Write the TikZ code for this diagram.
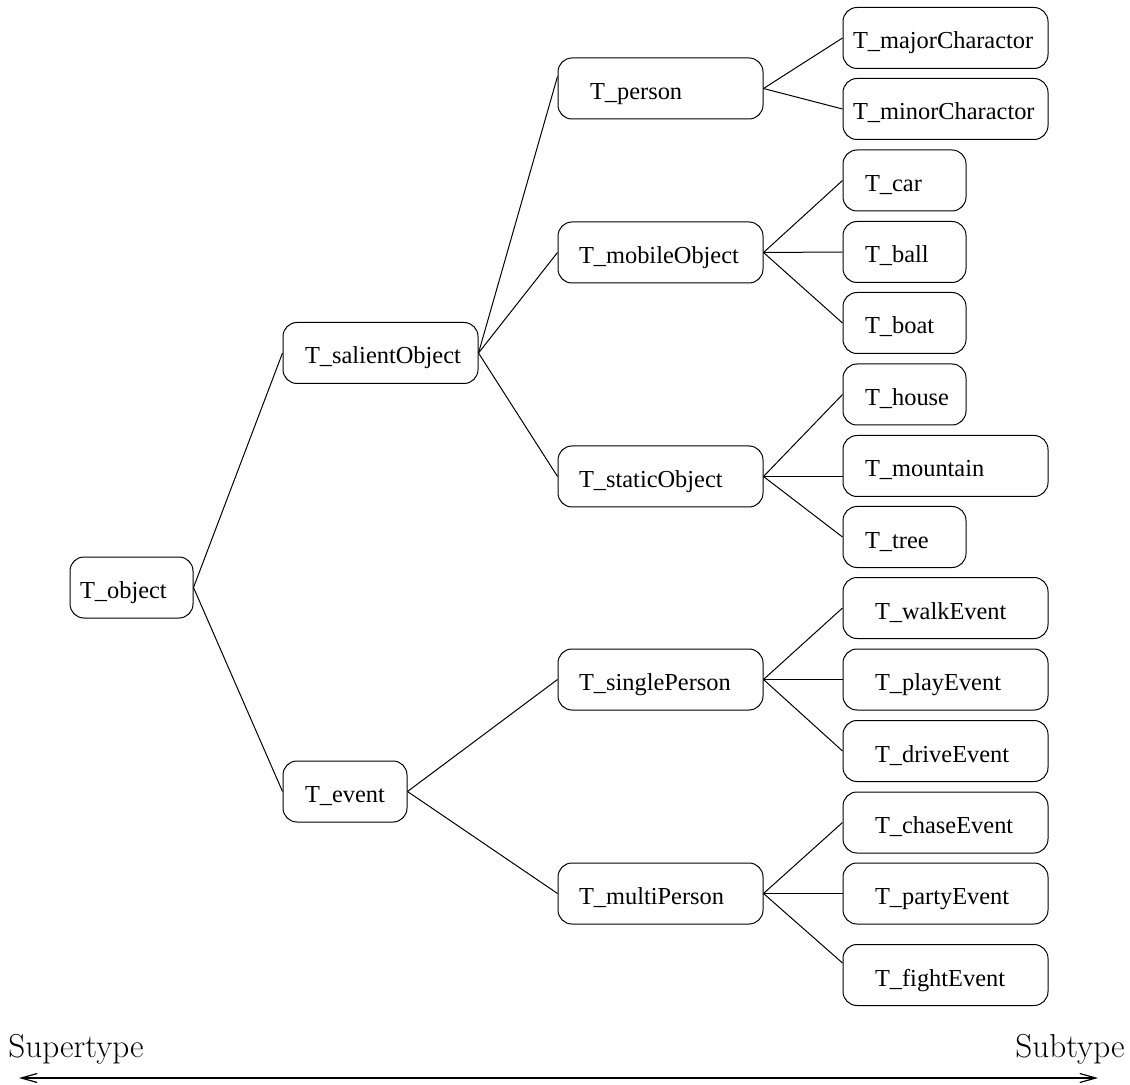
\documentclass[tikz,border=0pt]{standalone}
\usepackage{fontspec}
\usetikzlibrary{arrows.meta}
\newfontfamily\boxfont{Liberation Serif}
\hyphenpenalty=10000
\exhyphenpenalty=10000

\tikzset{
  box/.style 2 args={draw, line width=0.5pt, rounded corners=7pt,
    minimum height=30.5pt, inner ysep=0pt, align=left,
    text height=11pt, text depth=0pt,
    inner xsep=#2*0.5pt, text width={(#1-2*#2)*0.5pt},
    font=\boxfont\fontsize{12.2}{14}\selectfont},
  link/.style={line width=0.5pt},
  axistip/.tip={Straight Barb[length=8pt,width=4.5pt]}
}

\begin{document}
\begin{tikzpicture}[x=0.5pt,y=-0.5pt]
  \useasboundingbox (0,0) rectangle (1130,1085);
  % root and first level
  \node[box={123}{10}] (object) at (131.5,587.5) {T\_object};
  \node[box={195}{22}] (salient) at (380.5,353) {T\_salientObject};
  \node[box={124}{22}] (event) at (345,791.5) {T\_event};
  % second level
  \node[box={205}{32}] (person) at (660.5,88.5) {T\_person};
  \node[box={205}{21}] (mobile) at (660.5,252.5) {T\_mobileObject};
  \node[box={205}{21}] (static) at (660.5,476.5) {T\_staticObject};
  \node[box={205}{21}] (single) at (660.5,679.5) {T\_singlePerson};
  \node[box={205}{21}] (multi) at (660.5,893.5) {T\_multiPerson};
  % leaves
  \node[box={205}{10}] (major) at (945.5,38) {T\_majorCharactor};
  \node[box={205}{10}] (minor) at (945.5,109) {T\_minorCharactor};
  \node[box={123}{22}] (car) at (904.5,180.5) {T\_car};
  \node[box={123}{22}] (ball) at (904.5,252) {T\_ball};
  \node[box={123}{22}] (boat) at (904.5,323) {T\_boat};
  \node[box={123}{22}] (house) at (904.5,394.5) {T\_house};
  \node[box={205}{22}] (mountain) at (945.5,466) {T\_mountain};
  \node[box={123}{22}] (tree) at (904.5,537) {T\_tree};
  \node[box={205}{32}] (walk) at (945.5,608) {T\_walkEvent};
  \node[box={205}{32}] (play) at (945.5,679.5) {T\_playEvent};
  \node[box={205}{32}] (drive) at (945.5,751) {T\_driveEvent};
  \node[box={205}{32}] (chase) at (945.5,822.5) {T\_chaseEvent};
  \node[box={205}{32}] (party) at (945.5,893.5) {T\_partyEvent};
  \node[box={205}{32}] (fight) at (945.5,975) {T\_fightEvent};
  % links
  \foreach \c in {salient,event} \draw[link] (object.east) -- (\c.west);
  \draw[link] (salient.east) -- ([yshift=6pt]person.west);
  \foreach \c in {mobile,static} \draw[link] (salient.east) -- (\c.west);
  \foreach \c in {single,multi} \draw[link] (event.east) -- (\c.west);
  \foreach \c in {major,minor} \draw[link] (person.east) -- (\c.west);
  \foreach \c in {car,ball,boat} \draw[link] (mobile.east) -- (\c.west);
  \foreach \c in {house,tree} \draw[link] (static.east) -- (\c.west);
  \draw[link] (static.east) -- (static.east -| mountain.west);
  \foreach \c in {walk,play,drive} \draw[link] (single.east) -- (\c.west);
  \foreach \c in {chase,party} \draw[link] (multi.east) -- (\c.west);
  \draw[link] (multi.east) -- ([yshift=6pt]fight.west);
  % direction axis
  \node[anchor=base west,inner sep=0pt,font=\fontsize{16.6}{19}\selectfont] (super) at (8,1057) {Supertype};
  \node[anchor=base east,inner sep=0pt,font=\fontsize{16.6}{19}\selectfont] (sub) at (1125,1057) {Subtype};
  \coordinate (axisL) at (19,1078);
  \coordinate (axisR) at (1098,1078);
  \draw[line width=0.6pt,axistip-axistip] (axisL) -- (axisR);
\end{tikzpicture}
\end{document}
